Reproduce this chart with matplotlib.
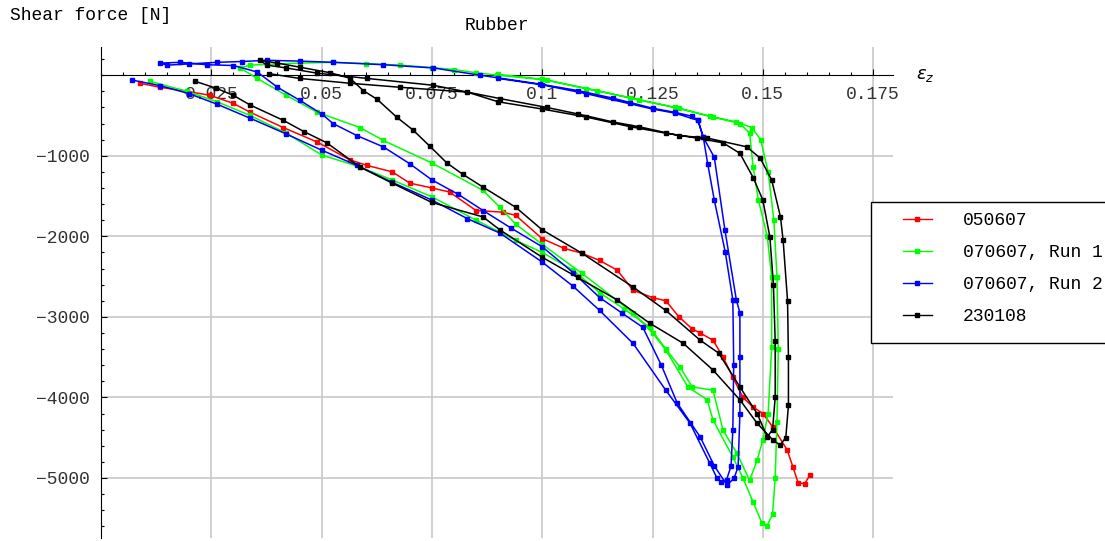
import matplotlib.pyplot as plt
from matplotlib.lines import Line2D
from matplotlib.patches import Rectangle
from matplotlib.ticker import MultipleLocator

# strain / shear force

red_strain = [0.0088, 0.0134, 0.0195, 0.0247, 0.030, 0.0338, 0.0413, 0.049, 0.0564, 0.0603,
              0.066, 0.070, 0.075, 0.079, 0.085, 0.091, 0.094, 0.100, 0.105, 0.109,
              0.113, 0.117, 0.1206, 0.125, 0.128, 0.131, 0.134, 0.1358, 0.1387, 0.141,
              0.1432, 0.1455, 0.1478, 0.150, 0.1523, 0.1555, 0.1568, 0.158, 0.1595, 0.1607]
red_force = [-100, -150, -200, -250, -350, -460, -650, -830, -1050, -1120,
             -1200, -1340, -1400, -1450, -1680, -1700, -1740, -2030, -2150, -2210,
             -2300, -2420, -2670, -2760, -2800, -3000, -3150, -3200, -3290, -3500,
             -3750, -4000, -4120, -4200, -4370, -4650, -4860, -5060, -5070, -4960]

green_strain = [0.011, 0.0195, 0.0263, 0.0338, 0.042, 0.050, 0.0587, 0.066, 0.075, 0.085,
                0.094, 0.100, 0.107, 0.113, 0.1185, 0.1244, 0.128, 0.1312, 0.134, 0.1387,
                0.141, 0.1441, 0.147, 0.1487, 0.150, 0.1512, 0.152, 0.152, 0.151, 0.149,
                0.1478, 0.147, 0.1448, 0.1387, 0.131, 0.122, 0.1124, 0.101, 0.0898, 0.085,
                0.080, 0.075, 0.0678, 0.060, 0.0526, 0.045, 0.040, 0.0338, 0.0315,
                0.0354, 0.042, 0.049, 0.0587, 0.064, 0.075, 0.0866, 0.0904, 0.094, 0.100,
                0.109, 0.1206, 0.125, 0.128, 0.133, 0.1374, 0.1387, 0.1432, 0.1455, 0.1478,
                0.1498, 0.151, 0.1522, 0.1528, 0.1532, 0.1535, 0.1532, 0.1525, 0.1512, 0.1495,
                0.1475, 0.144, 0.138, 0.130, 0.120, 0.110, 0.100, 0.090]
green_force = [-75, -200, -330, -500, -720, -990, -1140, -1300, -1510, -1800,
               -2050, -2200, -2420, -2700, -2900, -3130, -3400, -3620, -3870, -3910,
               -4410, -4690, -5030, -4780, -4530, -4200, -3380, -2500, -2000, -1550,
               -1140, -720, -600, -520, -410, -310, -190, -60, 0, 30,
               70, 95, 125, 145, 160, 150, 140, 125, 90,
               -40, -250, -460, -650, -810, -1090, -1430, -1640, -1850, -2100,
               -2460, -2950, -3200, -3410, -3870, -4030, -4280, -4740, -5000, -5300,
               -5560, -5590, -5450, -5000, -4300, -3400, -2500, -1800, -1200, -800,
               -650, -580, -510, -400, -280, -170, -50, 10]

blue_strain = [0.007, 0.0134, 0.020, 0.0263, 0.0338, 0.042, 0.050, 0.058, 0.066, 0.075,
               0.083, 0.0904, 0.100, 0.107, 0.113, 0.1206, 0.128, 0.1335, 0.138, 0.1396,
               0.1405, 0.1418, 0.1428, 0.1432, 0.1434, 0.1432, 0.1415, 0.139, 0.1375, 0.1365,
               0.1353, 0.134, 0.130, 0.125, 0.120, 0.116, 0.108, 0.0995, 0.0859, 0.0753,
               0.064, 0.0526, 0.045, 0.0376, 0.032, 0.0263, 0.020, 0.015, 0.0134, 0.018,
               0.024, 0.030, 0.0354,
               0.040, 0.045, 0.050, 0.0526, 0.058, 0.064, 0.070, 0.075, 0.081, 0.0866,
               0.093, 0.100, 0.107, 0.113, 0.118, 0.1228, 0.127, 0.1306, 0.1358, 0.139,
               0.1419, 0.1435, 0.1444, 0.1448, 0.1448, 0.1448, 0.144, 0.1414, 0.139, 0.1365,
               0.1353, 0.130, 0.125, 0.110, 0.100, 0.090]
blue_force = [-60, -130, -230, -360, -534, -730, -930, -1120, -1330, -1550,
              -1780, -1960, -2320, -2620, -2920, -3330, -3910, -4320, -4820, -5000,
              -5050, -5020, -4850, -4400, -3600, -2790, -2200, -1550, -1100, -770,
              -560, -510, -460, -410, -340, -285, -190, -110, 0, 90,
              130, 160, 175, 185, 170, 160, 140, 125, 150, 160,
              130, 120, 40,
              -150, -310, -480, -600, -750, -890, -1100, -1300, -1480, -1680,
              -1900, -2130, -2450, -2760, -2950, -3130, -3600, -4070, -4490, -4850,
              -5090, -5000, -4860, -4200, -3500, -2950, -2790, -1920, -1020, -770,
              -560, -470, -420, -230, -120, -40]

black_strain = [0.0213, 0.026, 0.030, 0.0338, 0.0413, 0.046, 0.0512, 0.0587, 0.066, 0.075,
                0.0866, 0.0904, 0.100, 0.108, 0.117, 0.1244, 0.132, 0.1387, 0.1448, 0.1487,
                0.1523, 0.1539, 0.1552, 0.1558, 0.1558, 0.1556, 0.1546, 0.154, 0.152, 0.1494,
                0.1464, 0.1374, 0.131, 0.122, 0.116, 0.108, 0.101, 0.0904, 0.0753, 0.0603,
                0.049, 0.042, 0.0376, 0.036,
                0.040, 0.045, 0.052, 0.0565, 0.0594, 0.0626, 0.067, 0.0707, 0.0745, 0.0784,
                0.082, 0.0866, 0.094, 0.100, 0.109, 0.1206, 0.128, 0.1358, 0.140, 0.1448,
                0.1487, 0.151, 0.1522, 0.1528, 0.1528, 0.1524, 0.1516, 0.150, 0.1478, 0.1448,
                0.141, 0.135, 0.128, 0.120, 0.110, 0.100, 0.090, 0.083, 0.0678, 0.0564,
                0.045, 0.038]
black_force = [-75, -160, -250, -370, -560, -700, -840, -1140, -1340, -1580,
               -1760, -1920, -2260, -2510, -2790, -3080, -3330, -3660, -4030, -4320,
               -4530, -4590, -4500, -4100, -3500, -2800, -2050, -1760, -1300, -1030,
               -890, -780, -750, -640, -580, -480, -400, -290, -125, -40,
               25, 90, 125, 185,
               150, 100, 30, -40, -190, -300, -520, -680, -880, -1090,
               -1230, -1390, -1640, -1920, -2210, -2630, -2920, -3290, -3450, -3870,
               -4200, -4490, -4400, -4000, -3300, -2600, -2010, -1550, -1270, -970,
               -840, -780, -720, -640, -520, -420, -330, -210, -150, -100,
               -40, 20]

series = [
    ("050607", red_strain, red_force, "#ff0000"),
    ("070607, Run 1", green_strain, green_force, "#00ff00"),
    ("070607, Run 2", blue_strain, blue_force, "#0000ff"),
    ("230108", black_strain, black_force, "#000000"),
]

mono = "Liberation Mono"
fs = 13

fig = plt.figure(figsize=(11.05, 5.41), dpi=100)
ax = fig.add_axes([101 / 1105, 3 / 541, 792 / 1105, 491 / 541])

for label, xs, ys, col in series:
    ax.plot(xs, ys, color=col, lw=1.1, marker="s", ms=3.0,
            mec=col, mfc=col, zorder=3, label=label)

ax.set_xlim(0, 0.1795)
ax.set_ylim(-5745, 350)

ax.spines["top"].set_visible(False)
ax.spines["right"].set_visible(False)
ax.spines["bottom"].set_position(("data", 0))
ax.spines["bottom"].set_zorder(2.6)

ax.set_xticks([0.025, 0.05, 0.075, 0.1, 0.125, 0.15, 0.175])
ax.set_xticklabels(["0.025", "0.05", "0.075", "0.1", "0.125", "0.15", "0.175"])
ax.xaxis.set_minor_locator(MultipleLocator(0.005))
ax.set_yticks([-5000, -4000, -3000, -2000, -1000])
ax.set_yticklabels(["\u22125000", "\u22124000", "\u22123000", "\u22122000", "\u22121000"])
ax.yaxis.set_minor_locator(MultipleLocator(200))

ax.tick_params(which="both", direction="in", width=0.8, color="black")
ax.tick_params(which="major", length=4.5)
ax.tick_params(which="minor", length=2.5)
ax.tick_params(axis="x", which="major", pad=8, labelsize=fs, labelcolor="#333333")
ax.tick_params(axis="y", which="major", pad=8, labelsize=fs, labelcolor="#333333")
for lab in ax.get_xticklabels() + ax.get_yticklabels():
    lab.set_fontfamily(mono)

ax.grid(True, which="major", color="#c8c8c8", lw=1.2)
ax.set_axisbelow(True)

fig.text(10 / 1105, 1 - 16 / 541, "Shear force [N]", fontfamily=mono, fontsize=fs,
         ha="left", va="center")
fig.text(497 / 1105, 1 - 25 / 541, "Rubber", fontfamily=mono, fontsize=fs,
         ha="center", va="center")
fig.text(916 / 1105, 1 - 75 / 541, r"$\varepsilon_z$", fontsize=fs, ha="left", va="center")

# legend box sticks out past the right edge of the picture, as in the original
box = Rectangle((871 / 1105, 1 - 343 / 541), 240 / 1105, 141 / 541,
                transform=fig.transFigure, facecolor="white", edgecolor="black", lw=1.0)
fig.add_artist(box)

leg_handles = [Line2D([], [], color=c, lw=1.0, marker="s", ms=2.6) for _, _, _, c in series]
fig.legend(leg_handles, [s[0] for s in series], loc="upper left",
           bbox_to_anchor=(903 / 1105, 1 - 212 / 541), bbox_transform=fig.transFigure,
           frameon=False, borderpad=0, borderaxespad=0, numpoints=1,
           handlelength=1.6, handletextpad=1.7, labelspacing=0.83,
           prop={"family": mono, "size": fs})

fig.savefig("out.png", dpi=100)
